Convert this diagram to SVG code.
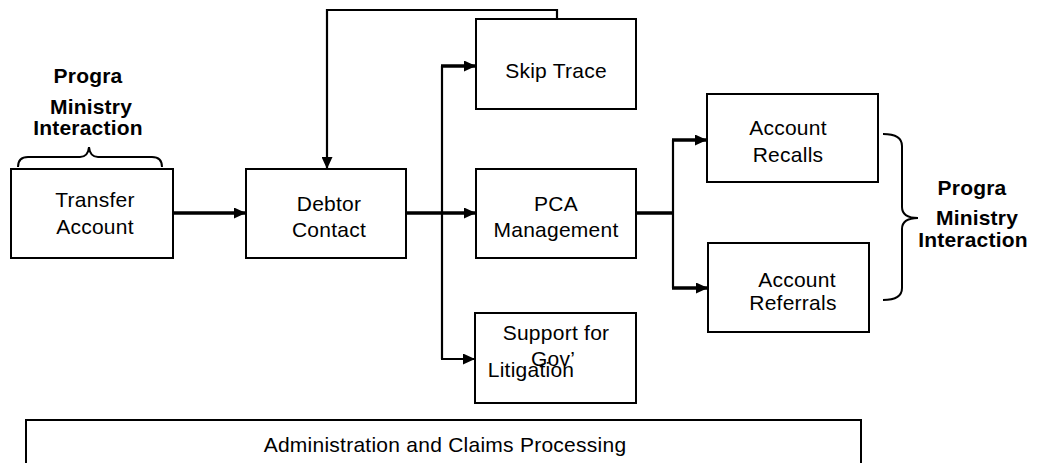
<svg xmlns="http://www.w3.org/2000/svg" width="1037" height="463" viewBox="0 0 1037 463">
  <style>
    .box { fill: #ffffff; stroke: #000000; stroke-width: 2; }
    .lbl { font-family: "Liberation Sans", Arial, sans-serif; font-size: 21px; letter-spacing: 0.25px; fill: #000000; text-anchor: middle; }
    .bold { font-family: "Liberation Sans", Arial, sans-serif; font-size: 21px; font-weight: bold; letter-spacing: 0.2px; fill: #000000; text-anchor: middle; }
    .flow { fill: none; stroke: #000000; stroke-width: 3.5; }
    .thin { fill: none; stroke: #000000; stroke-width: 2.2; }
    .brace { fill: none; stroke: #000000; stroke-width: 2; }
  </style>
  <defs>
    <marker id="arrow" markerUnits="userSpaceOnUse" markerWidth="12" markerHeight="11" refX="12" refY="5.5" orient="auto">
      <path d="M0,0 L12,5.5 L0,11 Z" fill="#000000"/>
    </marker>
  </defs>

  <rect width="1037" height="463" fill="#ffffff"/>

  <!-- connectors -->
  <g id="connectors">
    <!-- Transfer Account -> Debtor Contact -->
    <path class="flow" d="M173,213 H246" marker-end="url(#arrow)"/>
    <!-- Debtor Contact -> PCA Management -->
    <path class="flow" d="M406,213 H476" marker-end="url(#arrow)"/>
    <!-- branch to Skip Trace and Support for Gov' Litigation -->
    <path class="thin" d="M442,66 V359"/>
    <path class="flow" d="M441,66 H476" marker-end="url(#arrow)"/>
    <path class="thin" d="M441,359 H475" marker-end="url(#arrow)"/>
    <!-- Skip Trace feedback to Debtor Contact -->
    <path class="thin" d="M557,19 V10 H327 V169" marker-end="url(#arrow)"/>
    <!-- PCA Management -> Recalls / Referrals -->
    <path class="flow" d="M636,213 H673"/>
    <path class="thin" d="M673,140 V288"/>
    <path class="flow" d="M672,140 H707" marker-end="url(#arrow)"/>
    <path class="flow" d="M672,288 H708" marker-end="url(#arrow)"/>
  </g>

  <!-- left program / ministry label with brace -->
  <g id="ministry-left">
    <text class="bold" x="88" y="83">Progra</text>
    <text class="bold" x="91" y="114">Ministry</text>
    <text class="bold" x="88" y="135">Interaction</text>
    <path class="brace" d="M18,167 Q18,157 28,157 H80 Q88,157 89,147 Q90,157 98,157 H152 Q162,157 162,167"/>
  </g>

  <g id="transfer-account">
    <rect class="box" x="11" y="169" width="162" height="89"/>
    <text class="lbl" x="95" y="207">Transfer</text>
    <text class="lbl" x="95" y="234">Account</text>
  </g>

  <g id="debtor-contact">
    <rect class="box" x="246" y="169" width="160" height="89"/>
    <text class="lbl" x="329" y="211">Debtor</text>
    <text class="lbl" x="329" y="237">Contact</text>
  </g>

  <g id="skip-trace">
    <rect class="box" x="476" y="19" width="160" height="90"/>
    <text class="lbl" x="556" y="78">Skip Trace</text>
  </g>

  <g id="pca-management">
    <rect class="box" x="476" y="169" width="160" height="89"/>
    <text class="lbl" x="556" y="211">PCA</text>
    <text class="lbl" x="556" y="237">Management</text>
  </g>

  <g id="support-litigation">
    <rect class="box" x="475" y="313" width="161" height="90"/>
    <text class="lbl" x="556" y="340">Support for</text>
    <text class="lbl" x="553" y="366">Gov’</text>
    <text class="lbl" x="531" y="377">Litigation</text>
  </g>

  <g id="account-recalls">
    <rect class="box" x="707" y="94" width="171" height="88"/>
    <text class="lbl" x="788" y="135">Account</text>
    <text class="lbl" x="788" y="162">Recalls</text>
  </g>

  <g id="account-referrals">
    <rect class="box" x="708" y="243" width="161" height="89"/>
    <text class="lbl" x="797" y="287">Account</text>
    <text class="lbl" x="793" y="310">Referrals</text>
  </g>

  <!-- right program / ministry label with brace -->
  <g id="ministry-right">
    <path class="brace" d="M883,134 Q902,134 902,146 V207 Q902,218 918,218 Q902,218 902,229 V288 Q902,300 883,300"/>
    <text class="bold" x="972" y="195">Progra</text>
    <text class="bold" x="977" y="225">Ministry</text>
    <text class="bold" x="973" y="247">Interaction</text>
  </g>

  <g id="administration">
    <rect class="box" x="26" y="420" width="835" height="60"/>
    <text class="lbl" x="445" y="452">Administration and Claims Processing</text>
  </g>
</svg>
